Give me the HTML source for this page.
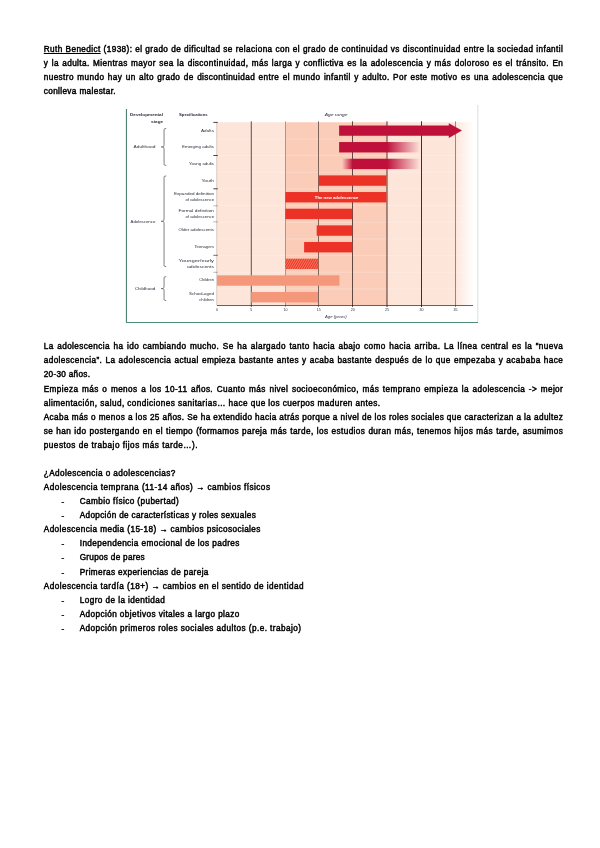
<!DOCTYPE html>
<html lang="es"><head><meta charset="utf-8"><title>Adolescencia</title>
<style>
html,body{margin:0;padding:0;background:#fff}
body{width:600px;height:848px;position:relative;overflow:hidden;font-family:"Liberation Sans", sans-serif;color:#000}
.t{position:absolute;white-space:nowrap;font-size:8.2px;line-height:0;height:0;-webkit-text-stroke:0.45px #000;}
.t::before{content:"";display:inline-block;height:0;}
svg{position:absolute;left:0;top:0}
</style></head><body>
<svg width="600" height="848" viewBox="0 0 600 848" font-family="Liberation Sans, sans-serif">
<defs>
<linearGradient id="gR" x1="0" x2="1" y1="0" y2="0"><stop offset="0" stop-color="#fde5da"/><stop offset="0.78" stop-color="#fde5da"/><stop offset="1" stop-color="#ffffff"/></linearGradient>
<linearGradient id="fo" x1="0" x2="1"><stop offset="0" stop-color="#bf0f3b" stop-opacity="1"/><stop offset="1" stop-color="#bf0f3b" stop-opacity="0"/></linearGradient>
<linearGradient id="fi" x1="0" x2="1"><stop offset="0" stop-color="#bf0f3b" stop-opacity="0"/><stop offset="1" stop-color="#bf0f3b" stop-opacity="1"/></linearGradient>
<pattern id="hat" width="2.0" height="2.0" patternUnits="userSpaceOnUse" patternTransform="rotate(30)"><rect width="2.0" height="2.0" fill="#f7906f"/><rect width="1.25" height="2.0" fill="#ec3226"/></pattern>
</defs>
<line x1="126.4" y1="109" x2="126.4" y2="322.8" stroke="#3d7466" stroke-width="1"/>
<line x1="126" y1="322.5" x2="478" y2="322.5" stroke="#4f8c7c" stroke-width="1"/>
<line x1="477.8" y1="105" x2="477.8" y2="322" stroke="#c9d6d6" stroke-width="0.7"/>
<rect x="217.0" y="122.27" width="68.44999999999999" height="183.26" fill="#fde5da"/>
<rect x="285.45" y="122.27" width="101.55000000000001" height="183.26" fill="#fbccb8"/>
<rect x="387.0" y="122.27" width="87.0" height="183.26" fill="url(#gR)"/>
<line x1="217.0" y1="138.93" x2="474" y2="138.93" stroke="#fff" stroke-opacity="0.4" stroke-width="0.6"/>
<line x1="217.0" y1="155.59" x2="474" y2="155.59" stroke="#fff" stroke-opacity="0.4" stroke-width="0.6"/>
<line x1="217.0" y1="172.25" x2="474" y2="172.25" stroke="#fff" stroke-opacity="0.4" stroke-width="0.6"/>
<line x1="217.0" y1="188.91" x2="474" y2="188.91" stroke="#fff" stroke-opacity="0.4" stroke-width="0.6"/>
<line x1="217.0" y1="205.57" x2="474" y2="205.57" stroke="#fff" stroke-opacity="0.4" stroke-width="0.6"/>
<line x1="217.0" y1="222.23" x2="474" y2="222.23" stroke="#fff" stroke-opacity="0.4" stroke-width="0.6"/>
<line x1="217.0" y1="238.89" x2="474" y2="238.89" stroke="#fff" stroke-opacity="0.4" stroke-width="0.6"/>
<line x1="217.0" y1="255.55" x2="474" y2="255.55" stroke="#fff" stroke-opacity="0.4" stroke-width="0.6"/>
<line x1="217.0" y1="272.21" x2="474" y2="272.21" stroke="#fff" stroke-opacity="0.4" stroke-width="0.6"/>
<line x1="217.0" y1="288.87" x2="474" y2="288.87" stroke="#fff" stroke-opacity="0.4" stroke-width="0.6"/>
<rect x="250.850" y="121.27" width="0.7" height="185.76" fill="#1c100c"/>
<rect x="285.275" y="121.27" width="0.35" height="185.76" fill="#1c100c"/>
<rect x="318.225" y="121.27" width="0.55" height="185.76" fill="#1c100c"/>
<rect x="352.250" y="121.27" width="0.7" height="185.76" fill="#1c100c"/>
<rect x="386.600" y="121.27" width="0.8" height="185.76" fill="#1c100c"/>
<rect x="421.025" y="121.27" width="0.85" height="185.76" fill="#1c100c"/>
<rect x="455.225" y="121.27" width="0.45" height="185.76" fill="#1c100c"/>
<line x1="216.7" y1="122.27" x2="216.7" y2="305.53" stroke="#cdb6ab" stroke-width="0.7"/>
<line x1="213.3" y1="122.40" x2="217.8" y2="122.40" stroke="#1a1a1a" stroke-opacity="1" stroke-width="0.8"/>
<line x1="213.3" y1="155.50" x2="217.8" y2="155.50" stroke="#1a1a1a" stroke-opacity="1" stroke-width="0.8"/>
<line x1="213.3" y1="188.80" x2="217.8" y2="188.80" stroke="#1a1a1a" stroke-opacity="1" stroke-width="0.8"/>
<line x1="213.3" y1="205.80" x2="217.8" y2="205.80" stroke="#1a1a1a" stroke-opacity="0.4" stroke-width="0.8"/>
<line x1="213.3" y1="221.90" x2="217.8" y2="221.90" stroke="#1a1a1a" stroke-opacity="0.4" stroke-width="0.8"/>
<line x1="213.3" y1="255.30" x2="217.8" y2="255.30" stroke="#1a1a1a" stroke-opacity="0.8" stroke-width="0.8"/>
<line x1="213.3" y1="272.30" x2="217.8" y2="272.30" stroke="#1a1a1a" stroke-opacity="0.4" stroke-width="0.8"/>
<line x1="217.0" y1="305.53" x2="473" y2="305.53" stroke="#222" stroke-width="0.7"/>
<path d="M339.12 125.40 H448.8 V123.30 L462 130.60 L448.8 137.90 V135.80 H339.12 Z" fill="#bf0f3b"/>
<rect x="339.12" y="142.06" width="47.88" height="10.4" fill="#bf0f3b"/>
<rect x="386.80" y="142.06" width="33.45" height="10.4" fill="url(#fo)"/>
<rect x="342" y="158.72" width="10.90" height="10.4" fill="url(#fi)"/>
<rect x="352.70" y="158.72" width="34.30" height="10.4" fill="#bf0f3b"/>
<rect x="386.80" y="158.72" width="33.45" height="10.4" fill="url(#fo)"/>
<rect x="318.80" y="175.38" width="67.70" height="10.4" fill="#ec3226"/>
<rect x="285.30" y="192.04" width="101.20" height="10.4" fill="#ec3226"/>
<rect x="285.30" y="208.70" width="67.00" height="10.4" fill="#ec3226"/>
<rect x="316.70" y="225.36" width="35.60" height="10.4" fill="#ec3226"/>
<rect x="304.10" y="242.02" width="48.20" height="10.4" fill="#ec3226"/>
<rect x="285.30" y="258.68" width="33.00" height="10.4" fill="url(#hat)"/>
<rect x="217.00" y="275.34" width="122.40" height="10.4" fill="#f5977b"/>
<rect x="251.20" y="292.00" width="66.80" height="10.4" fill="#f5977b"/>
<text x="163" y="116.3" text-anchor="end" font-size="4.3" fill="#2b2f3a" textLength="33" lengthAdjust="spacingAndGlyphs" font-weight="bold">Developmental</text>
<text x="163" y="122.89999999999999" text-anchor="end" font-size="4.3" fill="#2b2f3a" textLength="12" lengthAdjust="spacingAndGlyphs" font-weight="bold">stage</text>
<text x="179" y="116.3" text-anchor="start" font-size="4.3" fill="#2b2f3a" textLength="28.6" lengthAdjust="spacingAndGlyphs" font-weight="bold">Specifications</text>
<text x="324.7" y="116.3" text-anchor="start" font-size="4.3" fill="#2b2f3a" textLength="22.8" lengthAdjust="spacingAndGlyphs" font-style="italic">Age range</text>
<text x="214" y="131.70000000000002" text-anchor="end" font-size="4.3" fill="#2b2f3a" textLength="13" lengthAdjust="spacingAndGlyphs">Adults</text>
<text x="214" y="148.3" text-anchor="end" font-size="4.3" fill="#2b2f3a" textLength="32" lengthAdjust="spacingAndGlyphs">Emerging adults</text>
<text x="214" y="164.9" text-anchor="end" font-size="4.3" fill="#2b2f3a" textLength="25" lengthAdjust="spacingAndGlyphs">Young adults</text>
<text x="214" y="181.5" text-anchor="end" font-size="4.3" fill="#2b2f3a" textLength="12.5" lengthAdjust="spacingAndGlyphs">Youth</text>
<text x="214" y="194.9" text-anchor="end" font-size="4.3" fill="#2b2f3a" textLength="40" lengthAdjust="spacingAndGlyphs">Expanded definition</text>
<text x="214" y="200.9" text-anchor="end" font-size="4.3" fill="#2b2f3a" textLength="28.5" lengthAdjust="spacingAndGlyphs">of adolescence</text>
<text x="214" y="211.5" text-anchor="end" font-size="4.3" fill="#2b2f3a" textLength="35.5" lengthAdjust="spacingAndGlyphs">Formal definition</text>
<text x="214" y="217.70000000000002" text-anchor="end" font-size="4.3" fill="#2b2f3a" textLength="28.5" lengthAdjust="spacingAndGlyphs">of adolescence</text>
<text x="214" y="231.3" text-anchor="end" font-size="4.3" fill="#2b2f3a" textLength="35.5" lengthAdjust="spacingAndGlyphs">Older adolescents</text>
<text x="214" y="248.0" text-anchor="end" font-size="4.3" fill="#2b2f3a" textLength="19.5" lengthAdjust="spacingAndGlyphs">Teenagers</text>
<text x="214" y="261.6" text-anchor="end" font-size="4.3" fill="#2b2f3a" textLength="35.5" lengthAdjust="spacingAndGlyphs">Younger/early</text>
<text x="214" y="267.90000000000003" text-anchor="end" font-size="4.3" fill="#2b2f3a" textLength="27" lengthAdjust="spacingAndGlyphs">adolescents</text>
<text x="214" y="281.3" text-anchor="end" font-size="4.3" fill="#2b2f3a" textLength="14.8" lengthAdjust="spacingAndGlyphs">Children</text>
<text x="214" y="294.90000000000003" text-anchor="end" font-size="4.3" fill="#2b2f3a" textLength="25" lengthAdjust="spacingAndGlyphs">School-aged</text>
<text x="214" y="301.3" text-anchor="end" font-size="4.3" fill="#2b2f3a" textLength="14.8" lengthAdjust="spacingAndGlyphs">children</text>
<text x="133.6" y="148.10000000000002" text-anchor="start" font-size="4.3" fill="#2b2f3a" textLength="21.8" lengthAdjust="spacingAndGlyphs">Adulthood</text>
<text x="130.6" y="223.3" text-anchor="start" font-size="4.3" fill="#2b2f3a" textLength="24.7" lengthAdjust="spacingAndGlyphs">Adolescence</text>
<text x="134.7" y="289.8" text-anchor="start" font-size="4.3" fill="#2b2f3a" textLength="20.6" lengthAdjust="spacingAndGlyphs">Childhood</text>
<text x="314.8" y="198.7" text-anchor="start" font-size="4.0" fill="#fff" textLength="43.7" lengthAdjust="spacingAndGlyphs" font-weight="bold">The new adolescence</text>
<text x="217.00" y="311.3" text-anchor="middle" font-size="3.6" fill="#2b2f3a">0</text>
<text x="251.20" y="311.3" text-anchor="middle" font-size="3.6" fill="#2b2f3a">5</text>
<text x="285.45" y="311.3" text-anchor="middle" font-size="3.6" fill="#2b2f3a">10</text>
<text x="318.75" y="311.3" text-anchor="middle" font-size="3.6" fill="#2b2f3a">15</text>
<text x="352.70" y="311.3" text-anchor="middle" font-size="3.6" fill="#2b2f3a">20</text>
<text x="387.00" y="311.3" text-anchor="middle" font-size="3.6" fill="#2b2f3a">25</text>
<text x="421.45" y="311.3" text-anchor="middle" font-size="3.6" fill="#2b2f3a">30</text>
<text x="455.45" y="311.3" text-anchor="middle" font-size="3.6" fill="#2b2f3a">35</text>
<text x="325" y="318.0" text-anchor="start" font-size="3.6" fill="#2b2f3a" textLength="21.7" lengthAdjust="spacingAndGlyphs" font-style="italic">Age (years)</text>
<path d="M166.2 128.5 C164.05 128.5 164.05 129.0 164.05 130.7 V144.75 C164.05 146.45 163.55 146.95 161.3 146.95 C163.55 146.95 164.05 147.45 164.05 149.14999999999998 V163.20000000000002 C164.05 164.9 164.05 165.4 166.2 165.4" fill="none" stroke="#3a3a3a" stroke-width="0.65"/>
<path d="M166.2 176 C164.05 176 164.05 176.5 164.05 178.2 V219.10000000000002 C164.05 220.8 163.55 221.3 161.3 221.3 C163.55 221.3 164.05 221.8 164.05 223.5 V264.40000000000003 C164.05 266.1 164.05 266.6 166.2 266.6" fill="none" stroke="#3a3a3a" stroke-width="0.65"/>
<path d="M166.2 276.7 C164.05 276.7 164.05 277.2 164.05 278.9 V286.40000000000003 C164.05 288.1 163.55 288.6 161.3 288.6 C163.55 288.6 164.05 289.1 164.05 290.8 V298.3 C164.05 300.0 164.05 300.5 166.2 300.5" fill="none" stroke="#3a3a3a" stroke-width="0.65"/>
</svg>
<div class="t" style="left:43.75px;top:49.76px;letter-spacing:0.404px;word-spacing:0.236px;"><u>Ruth Benedict</u> (1938): el grado de dificultad se relaciona con el grado de continuidad vs discontinuidad entre la sociedad infantil</div>
<div class="t" style="left:43.75px;top:63.86px;letter-spacing:0.404px;word-spacing:0.730px;">y la adulta. Mientras mayor sea la discontinuidad, más larga y conflictiva es la adolescencia y más doloroso es el tránsito. En</div>
<div class="t" style="left:43.75px;top:77.96px;letter-spacing:0.404px;word-spacing:0.776px;">nuestro mundo hay un alto grado de discontinuidad entre el mundo infantil y adulto. Por este motivo es una adolescencia que</div>
<div class="t" style="left:43.75px;top:91.96px;letter-spacing:0.371px;">conlleva malestar.</div>
<div class="t" style="left:43.75px;top:347.16px;letter-spacing:0.404px;word-spacing:0.907px;">La adolescencia ha ido cambiando mucho. Se ha alargado tanto hacia abajo como hacia arriba. La línea central es la “nueva</div>
<div class="t" style="left:43.75px;top:361.26px;letter-spacing:0.404px;word-spacing:0.551px;">adolescencia”. La adolescencia actual empieza bastante antes y acaba bastante después de lo que empezaba y acababa hace</div>
<div class="t" style="left:43.75px;top:375.46px;letter-spacing:0.300px;">20-30 años.</div>
<div class="t" style="left:43.75px;top:389.66px;letter-spacing:0.404px;word-spacing:0.943px;">Empieza más o menos a los 10-11 años. Cuanto más nivel socioeconómico, más temprano empieza la adolescencia -&gt; mejor</div>
<div class="t" style="left:43.75px;top:403.76px;letter-spacing:0.425px;">alimentación, salud, condiciones sanitarias… hace que los cuerpos maduren antes.</div>
<div class="t" style="left:43.75px;top:417.76px;letter-spacing:0.404px;word-spacing:-0.008px;">Acaba más o menos a los 25 años. Se ha extendido hacia atrás porque a nivel de los roles sociales que caracterizan a la adultez</div>
<div class="t" style="left:43.75px;top:431.96px;letter-spacing:0.404px;word-spacing:0.455px;">se han ido postergando en el tiempo (formamos pareja más tarde, los estudios duran más, tenemos hijos más tarde, asumimos</div>
<div class="t" style="left:43.75px;top:445.96px;letter-spacing:0.491px;">puestos de trabajo fijos más tarde…).</div>
<div class="t" style="left:43.75px;top:473.56px;letter-spacing:0.424px;">¿Adolescencia o adolescencias?</div>
<div class="t" style="left:43.75px;top:487.66px;letter-spacing:0.468px;">Adolescencia temprana (11-14 años) → cambios físicos</div>
<div class="t" style="left:79.7px;top:501.76px;letter-spacing:0.411px;">Cambio físico (pubertad)</div>
<div class="t" style="left:79.7px;top:515.86px;letter-spacing:0.338px;">Adopción de características y roles sexuales</div>
<div class="t" style="left:43.75px;top:530.06px;letter-spacing:0.419px;">Adolescencia media (15-18) → cambios psicosociales</div>
<div class="t" style="left:79.7px;top:544.26px;letter-spacing:0.415px;">Independencia emocional de los padres</div>
<div class="t" style="left:79.7px;top:558.46px;letter-spacing:0.286px;">Grupos de pares</div>
<div class="t" style="left:79.7px;top:572.56px;letter-spacing:0.376px;">Primeras experiencias de pareja</div>
<div class="t" style="left:43.75px;top:586.76px;letter-spacing:0.451px;">Adolescencia tardía (18+) → cambios en el sentido de identidad</div>
<div class="t" style="left:79.7px;top:600.96px;letter-spacing:0.431px;">Logro de la identidad</div>
<div class="t" style="left:79.7px;top:615.06px;letter-spacing:0.419px;">Adopción objetivos vitales a largo plazo</div>
<div class="t" style="left:79.7px;top:629.26px;letter-spacing:0.440px;">Adopción primeros roles sociales adultos (p.e. trabajo)</div>
<div class="t" style="left:61.4px;top:502.76px">-</div>
<div class="t" style="left:61.4px;top:516.86px">-</div>
<div class="t" style="left:61.4px;top:545.26px">-</div>
<div class="t" style="left:61.4px;top:559.46px">-</div>
<div class="t" style="left:61.4px;top:573.56px">-</div>
<div class="t" style="left:61.4px;top:601.96px">-</div>
<div class="t" style="left:61.4px;top:616.06px">-</div>
<div class="t" style="left:61.4px;top:630.26px">-</div>
</body></html>
